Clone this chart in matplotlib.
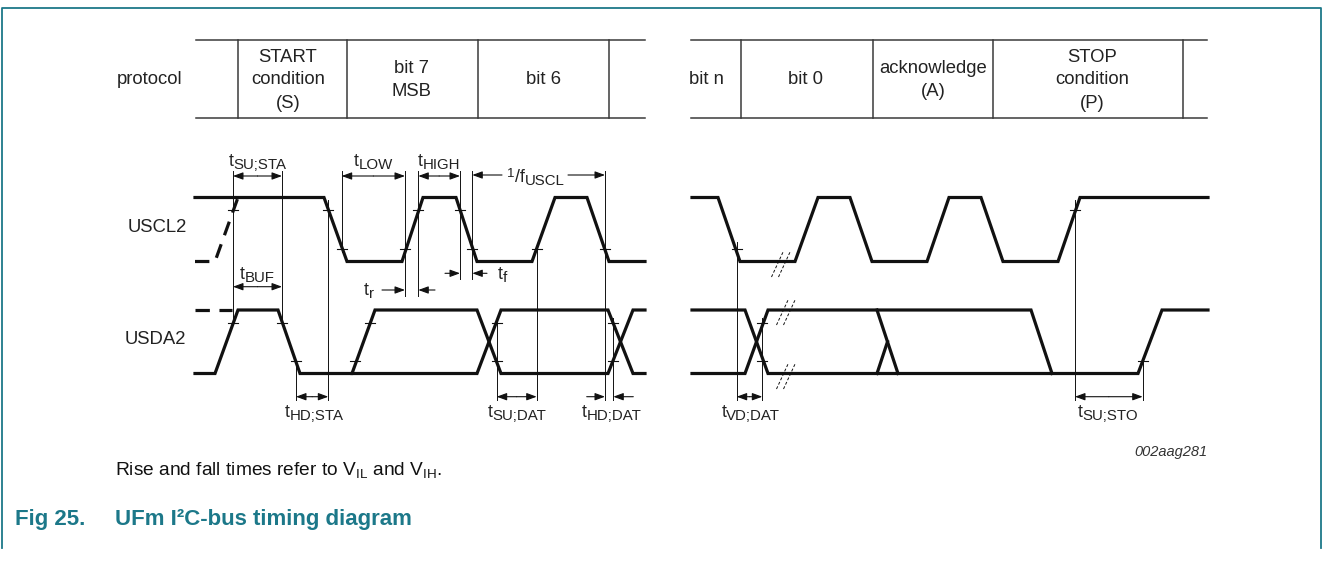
import matplotlib.pyplot as plt

plt.rcParams['font.family'] = ['Liberation Sans', 'DejaVu Sans']

# signal levels (pixel rows) for the two traces
SCL_HI, SCL_LO = 197.5, 261.5
SDA_HI, SDA_LO = 310, 373.5

# protocol table
table_left = [196, 645]
table_right = [691, 1207]
table_top, table_bot = 40, 117.5
div_left = [237.7, 346.7, 477.7, 609]
div_right = [740.7, 872.5, 993, 1183]
cell_text = ["protocol", "START\ncondition\n(S)", "bit 7\nMSB", "bit 6",
             "bit n", "bit 0", "acknowledge\n(A)", "STOP\ncondition\n(P)"]
cell_x = [150, 288, 411, 543, 706, 806, 933, 1092]

# waveforms: x positions and logic level (1 high, 0 low)
scl_left_x = [195, 324, 347, 402, 423, 456, 477, 532, 555, 587, 609, 645]
scl_left_v = [1, 1, 0, 0, 1, 1, 0, 0, 1, 1, 0, 0]
scl_dash_x = [195, 215, 238]
scl_dash_v = [0, 0, 1]
scl_right_x = [692, 718, 740, 795, 818, 850, 872, 927, 949, 981, 1003, 1058, 1080, 1208]
scl_right_v = [1, 1, 0, 0, 1, 1, 0, 0, 1, 1, 0, 0, 1, 1]

sda_a_x = [195, 215, 238, 278, 300, 352, 375, 477, 501, 608, 633, 645]
sda_a_v = [0, 0, 1, 1, 0, 0, 1, 1, 0, 0, 1, 1]
sda_b_x = [352, 477, 501, 608, 633, 645]
sda_b_v = [0, 0, 1, 1, 0, 0]
sda_dash_x = [195, 232]
sda_dash_v = [1, 1]
sda_c_x = [692, 745, 768, 1138, 1162, 1208]
sda_c_v = [1, 1, 0, 0, 1, 1]
sda_d_x = [692, 745, 768, 1031, 1052]
sda_d_v = [0, 0, 1, 1, 0]
sda_e_x = [877, 898]
sda_e_v = [1, 0]
sda_f_x = [877, 887.5]
sda_f_v = [0, 0.5]

# small level ticks (x, signal, level fraction: 0.8 = VIH, 0.2 = VIL)
ticks = [(233, 'scl', 0.8), (328.3, 'scl', 0.8), (341.7, 'scl', 0.2), (405, 'scl', 0.2),
         (418.3, 'scl', 0.8), (460, 'scl', 0.8), (472.3, 'scl', 0.2), (536.7, 'scl', 0.2),
         (605, 'scl', 0.2), (736.7, 'scl', 0.2), (1075, 'scl', 0.8),
         (233, 'sda', 0.8), (282, 'sda', 0.8), (296, 'sda', 0.2), (355, 'sda', 0.2),
         (370, 'sda', 0.8), (496.7, 'sda', 0.8), (496.7, 'sda', 0.2), (613.3, 'sda', 0.8),
         (613.3, 'sda', 0.2), (762.3, 'sda', 0.8), (762.3, 'sda', 0.2), (1142.7, 'sda', 0.2)]

# thin reference lines (x, y top, y bottom)
vlines = [(233, 171, 322), (282, 171, 323), (328.3, 200, 400), (296, 360, 400),
          (341.7, 171, 252), (405, 171, 296), (418.3, 171, 296), (460, 171, 279),
          (472.3, 171, 279), (605, 171, 400), (536.7, 246, 400), (496.7, 318, 400),
          (613.3, 318, 400), (736.7, 242, 400), (762.3, 318, 400), (1075, 200, 400),
          (1142.7, 357, 400)]

# double-headed dimension arrows (x0, x1, y)
dims = [(233, 282, 176), (233, 282, 286.7), (341.7, 405, 176), (418.3, 460, 176),
        (296, 328.3, 396.7), (496.7, 536.7, 396.7), (736.7, 762.3, 396.7),
        (1075, 1142.7, 396.7)]
# single arrows (from x, to x, y)
singles = [(382, 405, 290), (435, 418.3, 290), (445, 460, 273.3), (487, 472.3, 273.3),
           (586.7, 605, 396.7), (633.3, 613.3, 396.7), (502, 472.3, 175), (568, 605, 175)]

# timing labels: (main, subscript, x centre, baseline)
tlabels = [('t', 'SU;STA', 257.5, 166), ('t', 'LOW', 373, 166), ('t', 'HIGH', 439, 166),
           ('t', 'BUF', 257.5, 279), ('t', 'r', 369, 295), ('t', 'f', 502, 279),
           ('t', 'HD;STA', 314, 417), ('t', 'SU;DAT', 517, 417), ('t', 'HD;DAT', 612, 417),
           ('t', 'VD;DAT', 751, 417), ('t', 'SU;STO', 1108, 417)]

# break marks (x centre, y centre)
breaks = [(781, 264), (786, 312), (786, 376)]


def ys(vals, hi, lo):
    return [lo + v * (hi - lo) for v in vals]


fig = plt.figure(figsize=(13.25, 5.68), dpi=100)
ax = fig.add_axes([0, 0, 1, 1])
ax.set_xlim(0, 1325)
ax.set_ylim(568, 0)
ax.axis('off')
renderer = fig.canvas.get_renderer()


def pieces_label(xc, pieces):
    # pieces: (text, fontsize, baseline y); laid out left to right, centred on xc
    objs = [ax.text(0, yb, s, fontsize=fs, ha='left', va='baseline', color='#222')
            for s, fs, yb in pieces]
    widths = [o.get_window_extent(renderer).width for o in objs]
    x = xc - sum(widths) / 2
    for o, w in zip(objs, widths):
        o.set_x(x)
        x += w


teal = '#1c7889'
# frame
ax.plot([2, 2, 1321, 1321], [548, 7.5, 7.5, 548], color=teal, lw=1.3)

# protocol table
tc = '#3a3a3a'
for xs in (table_left, table_right):
    ax.plot(xs, [table_top, table_top], color=tc, lw=1.1)
    ax.plot(xs, [table_bot, table_bot], color=tc, lw=1.1)
for d in div_left + div_right:
    ax.plot([d, d], [table_top, table_bot], color=tc, lw=1.1)
for t, x in zip(cell_text, cell_x):
    lines = t.split('\n')
    for i, ln in enumerate(lines):
        ax.text(x, 80 + (i - (len(lines) - 1) / 2) * 23, ln, ha='center', va='center',
                fontsize=13.3, color='#222')

ax.text(157, 227, 'USCL2', ha='center', va='center', fontsize=13.3, color='#222')
ax.text(155, 340, 'USDA2', ha='center', va='center', fontsize=13.3, color='#222')

# waveforms
wl = 2.3
ax.plot(scl_left_x, ys(scl_left_v, SCL_HI, SCL_LO), color='#111', lw=wl, solid_joinstyle='miter')
ax.plot(scl_right_x, ys(scl_right_v, SCL_HI, SCL_LO), color='#111', lw=wl, solid_joinstyle='miter')
ax.plot(scl_dash_x, ys(scl_dash_v, SCL_HI, SCL_LO), color='#111', lw=wl, ls=(0, (4.5, 3)))
for xs, vs in [(sda_a_x, sda_a_v), (sda_b_x, sda_b_v), (sda_c_x, sda_c_v),
               (sda_d_x, sda_d_v), (sda_e_x, sda_e_v), (sda_f_x, sda_f_v)]:
    ax.plot(xs, ys(vs, SDA_HI, SDA_LO), color='#111', lw=wl, solid_joinstyle='miter')
ax.plot(sda_dash_x, ys(sda_dash_v, SDA_HI, SDA_LO), color='#111', lw=wl, ls=(0, (4.5, 3)))

# level ticks
for x, sig, f in ticks:
    y = ys([f], SCL_HI, SCL_LO)[0] if sig == 'scl' else ys([f], SDA_HI, SDA_LO)[0]
    ax.plot([x - 5, x + 5], [y, y], color='#111', lw=0.8)

# reference lines
for x, y0, y1 in vlines:
    ax.plot([x, x], [y0, y1], color='#111', lw=0.7)

ahead = '-|>,head_length=0.6,head_width=0.22'
for x0, x1, y in dims:
    xm = (x0 + x1) / 2
    for a, b in ((xm, x0), (xm, x1)):
        ax.annotate('', xy=(b, y), xytext=(a, y),
                    arrowprops=dict(arrowstyle=ahead, lw=0.8, color='#111',
                                    mutation_scale=10, shrinkA=0, shrinkB=0))
for x0, x1, y in singles:
    ax.annotate('', xy=(x1, y), xytext=(x0, y),
                arrowprops=dict(arrowstyle=ahead, lw=0.8, color='#111',
                                mutation_scale=10, shrinkA=0, shrinkB=0))

for main, sub, x, yb in tlabels:
    pieces_label(x, [(main, 12.8, yb), (sub, 10.8, yb + 3)])
pieces_label(536, [('1', 9.5, 177), ('/f', 12.8, 182), ('USCL', 10.8, 185)])

# break marks
for cx, cy in breaks:
    for off in (-3.5, 3.5):
        ax.plot([cx + off - 6, cx + off + 6], [cy + 13, cy - 13], color='#111',
                lw=0.7, ls=(0, (3, 2)))

ax.text(1207, 452, '002aag281', ha='right', va='center', fontsize=10.5,
        style='italic', color='#333')

ax.text(115, 470, r'Rise and fall times refer to $\mathregular{V_{IL}}$ and $\mathregular{V_{IH}}$.',
        ha='left', va='center', fontsize=13.8, color='#111')
ax.text(15, 519, 'Fig 25.', ha='left', va='center', fontsize=16, fontweight='bold', color=teal)
ax.text(115, 519, 'UFm I²C-bus timing diagram', ha='left', va='center', fontsize=16,
        fontweight='bold', color=teal)

fig.savefig('out.png', dpi=100)
